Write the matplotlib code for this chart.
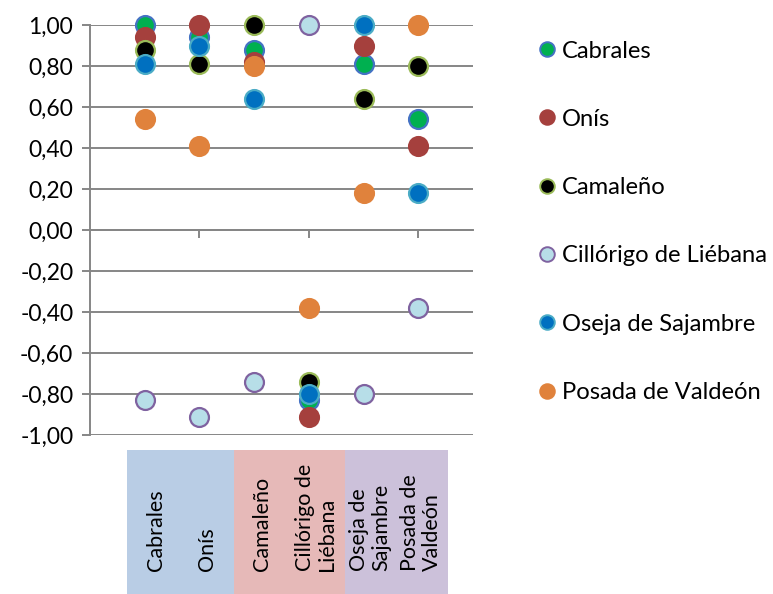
import matplotlib
matplotlib.use("Agg")
import matplotlib.pyplot as plt
from matplotlib.patches import Rectangle
from matplotlib.lines import Line2D
from matplotlib.ticker import FuncFormatter, FixedLocator

plt.rcParams['font.family'] = ['Lato', 'DejaVu Sans']

# ---- data ----
categories = ["Cabrales", "Onís", "Camaleño", "Cillórigo de Liébana",
              "Oseja de Sajambre", "Posada de Valdeón"]
cat_x = [1, 2, 3, 4, 5, 6]
cabrales = [1.00, 0.94, 0.88, -0.83, 0.81, 0.54]
onis = [0.94, 1.00, 0.82, -0.91, 0.90, 0.41]
camaleno = [0.88, 0.81, 1.00, -0.74, 0.64, 0.80]
cillorigo = [-0.83, -0.91, -0.74, 1.00, -0.80, -0.38]
oseja = [0.81, 0.90, 0.64, -0.80, 1.00, 0.18]
posada = [0.54, 0.41, 0.80, -0.38, 0.18, 1.00]
series = [cabrales, onis, camaleno, cillorigo, oseja, posada]
box_labels = ["Cabrales", "Onís", "Camaleño", "Cillórigo de\nLiébana",
              "Oseja de\nSajambre", "Posada de\nValdeón"]
y_ticks = [-1.0, -0.8, -0.6, -0.4, -0.2, 0.0, 0.2, 0.4, 0.6, 0.8, 1.0]

# ---- styles ----
fills = ["#00B050", "#A5403D", "#000000", "#B7DEE8", "#0070C0", "#E0823C"]
edges = ["#4472C4", "#A5403D", "#9BBB59", "#7F62A0", "#4BACC6", "#E0823C"]

W, H = 773, 594
fig = plt.figure(figsize=(W / 100, H / 100), dpi=100)


def fx(px):
    return px / W


def fy(py):
    return 1 - py / H


ax = fig.add_axes([fx(90), fy(435), fx(473) - fx(90), fy(25) - fy(435)])
grey = "#868686"

for i, vals in enumerate(series):
    ax.plot(cat_x, vals, linestyle="none", marker="o", markersize=13.6,
            markerfacecolor=fills[i], markeredgecolor=edges[i],
            markeredgewidth=1.6, zorder=3 + i, clip_on=False)

ax.set_xlim(0, 7)
ax.set_ylim(-1.0, 1.0)
ax.yaxis.set_major_locator(FixedLocator(y_ticks))
ax.yaxis.set_major_formatter(FuncFormatter(lambda v, p: f"{v:.2f}".replace(".", ",").replace("-0,00", "0,00")))
ax.grid(axis="y", color=grey, linewidth=1.4)
ax.set_axisbelow(True)
for s in ["top", "right"]:
    ax.spines[s].set_visible(False)
ax.spines["left"].set_color(grey)
ax.spines["left"].set_linewidth(1.4)
ax.spines["bottom"].set_position(("data", 0))
ax.spines["bottom"].set_color(grey)
ax.spines["bottom"].set_linewidth(1.4)
ax.xaxis.set_major_locator(FixedLocator([2, 4, 6]))
ax.set_xticklabels([])
ax.tick_params(axis="x", direction="out", length=6, width=1.4, color=grey)
ax.tick_params(axis="y", direction="out", length=6, width=1.4, color=grey,
               labelsize=16.5, pad=6)

# ---- legend ----
handles = [Line2D([], [], linestyle="none", marker="o", markersize=10.5,
                  markerfacecolor=fills[i], markeredgecolor=edges[i],
                  markeredgewidth=1.4) for i in range(len(series))]
fig.legend(handles, categories, loc="upper left",
           bbox_to_anchor=(fx(537), fy(40.5)), frameon=False,
           fontsize=17.1, labelspacing=1.99, handlelength=0.8,
           handletextpad=0.25, borderaxespad=0, borderpad=0)

# ---- category boxes ----
box_spans = [(127, 234, "#B9CDE5"), (234, 345, "#E6B9B8"), (345, 448, "#CCC1DA")]
for x0, x1, c in box_spans:
    fig.add_artist(Rectangle((fx(x0), fy(594)), fx(x1) - fx(x0), fy(450) - fy(594),
                             transform=fig.transFigure, facecolor=c,
                             edgecolor="none"))
label_x = [156, 207, 262, 316, 370, 421]
for lx, lab in zip(label_x, box_labels):
    fig.text(fx(lx), fy(571), lab, rotation=90, ha="center", va="bottom",
             multialignment="left", fontsize=15.5, linespacing=1.15)

fig.savefig("out.png", dpi=100)
